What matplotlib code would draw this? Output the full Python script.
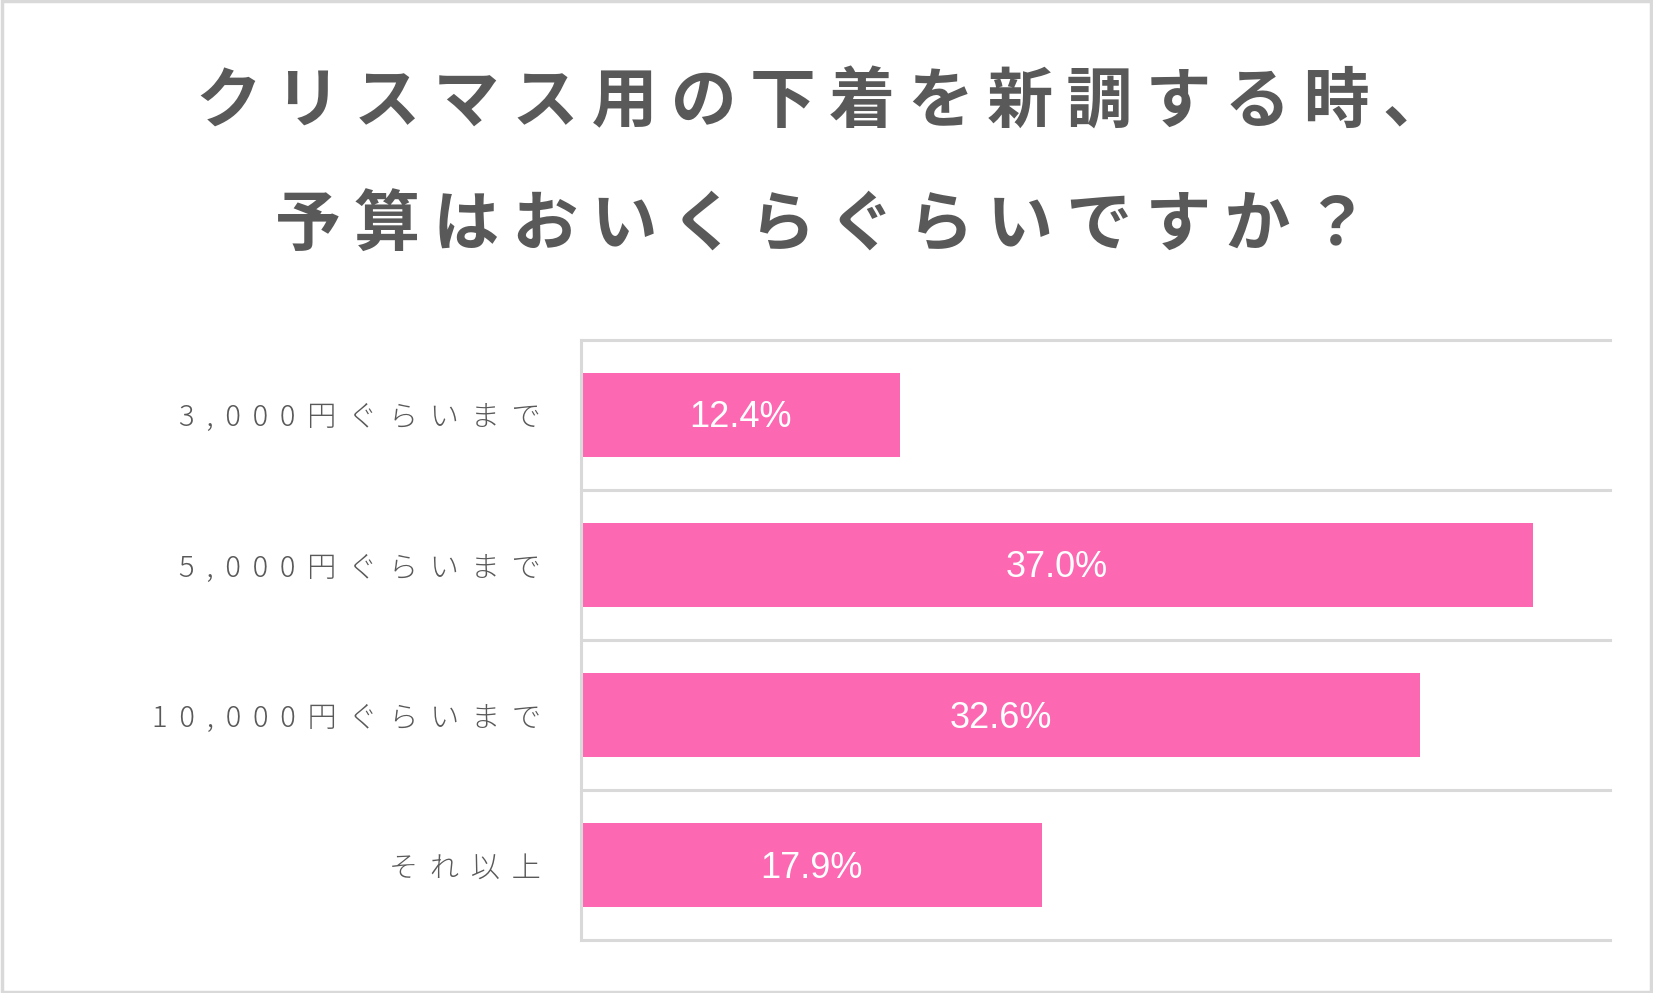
import matplotlib
matplotlib.use("Agg")
import matplotlib.pyplot as plt
from matplotlib.patches import Rectangle

categories = ["3,000円ぐらいまで", "5,000円ぐらいまで", "10,000円ぐらいまで", "それ以上"]
values = [12.4, 37.0, 32.6, 17.9]
value_labels = ["12.4%", "37.0%", "32.6%", "17.9%"]
title_lines = ["クリスマス用の下着を新調する時、", "予算はおいくらぐらいですか？"]

PINK = "#FD68B2"
GRAY = "#595959"
LINE = "#D9D9D9"
THIN = "\u2009"
FAM = ['Noto Sans CJK JP', 'DejaVu Sans']

def spaced_title(s):
    return THIN.join(s)

def spaced_label(s):
    return (THIN * 2).join(s)

plt.rcParams['font.family'] = FAM

fig = plt.figure(figsize=(16.53, 9.93), dpi=100)
fig.patch.set_facecolor("white")
fig.patches.append(Rectangle((0.001, 0.0015), 0.998, 0.997, transform=fig.transFigure,
                             fill=False, edgecolor=LINE, linewidth=2.5))

fig.text(0.4975, 0.897, spaced_title(title_lines[0]), ha="center", va="center",
         fontsize=47.5, fontweight="bold", color=GRAY, family=FAM)
fig.text(0.4975, 0.772, spaced_title(title_lines[1]), ha="center", va="center",
         fontsize=47.5, fontweight="bold", color=GRAY, family=FAM)

ax = fig.add_axes([0.3515, 0.0531, 0.974 - 0.3515, 0.658 - 0.0531])
y = list(range(len(categories)))
ax.barh(y, values, height=0.56, color=PINK, edgecolor="none", zorder=3)
ax.set_xlim(0, 40)
ax.set_ylim(len(categories) - 0.5, -0.5)

for k in range(len(categories) + 1):
    ax.axhline(k - 0.5, color=LINE, linewidth=2.2, zorder=1, clip_on=False)

for s in ["top", "right", "bottom"]:
    ax.spines[s].set_visible(False)
ax.spines["left"].set_color(LINE)
ax.spines["left"].set_linewidth(2.2)
ax.spines["left"].set_zorder(4)

ax.set_xticks([])
ax.set_yticks(y)
ax.set_yticklabels([spaced_label(c) for c in categories], fontsize=21, color=GRAY,
                   family=FAM, fontweight="light")
ax.tick_params(axis="y", length=0, pad=29)

for yi, v, lab in zip(y, values, value_labels):
    ax.text(v / 2, yi + 0.02, lab, ha="center", va="center", color="white",
            fontsize=26, family="Liberation Sans", zorder=5)

fig.savefig("out.png", dpi=100, facecolor="white")
